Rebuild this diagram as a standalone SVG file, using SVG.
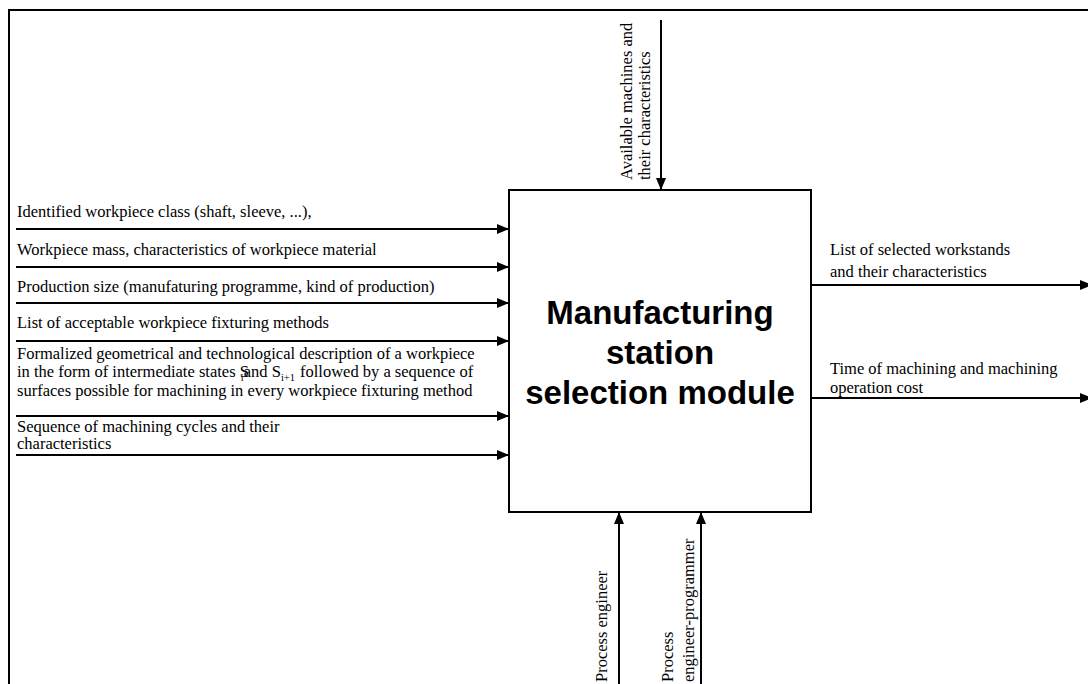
<svg xmlns="http://www.w3.org/2000/svg" width="1088" height="684" viewBox="0 0 1088 684">
<style>
.t{font-family:"Liberation Serif","Times New Roman",serif;font-size:16.5px;fill:#000}
.title{font-family:"Liberation Sans",Arial,sans-serif;font-weight:bold;font-size:33px;fill:#000;text-anchor:middle}
.ln{stroke:#000;stroke-width:2;fill:none}
.ar{stroke:#000;stroke-width:2;fill:none;marker-end:url(#ah)}
</style>
<defs>
<marker id="ah" markerUnits="userSpaceOnUse" markerWidth="12" markerHeight="10" refX="11" refY="5" orient="auto">
<path d="M0,0 L12,5 L0,10 z" fill="#000"/>
</marker>
</defs>
<rect width="1088" height="684" fill="#fff"/>
<g id="frame">
<path class="ln" d="M9,684 V10 H1088"/>
</g>
<g id="module">
<rect x="509" y="190" width="302" height="322" fill="#fff" stroke="#000" stroke-width="2"/>
<text class="title" x="660" y="324">Manufacturing</text>
<text class="title" x="660" y="364">station</text>
<text class="title" x="660" y="404">selection module</text>
</g>
<g id="connectors">
<line class="ar" x1="16" y1="229" x2="508" y2="229"/>
<line class="ar" x1="16" y1="267" x2="508" y2="267"/>
<line class="ar" x1="16" y1="303" x2="508" y2="303"/>
<line class="ar" x1="16" y1="341" x2="508" y2="341"/>
<line class="ar" x1="16" y1="416" x2="508" y2="416"/>
<line class="ar" x1="16" y1="455" x2="508" y2="455"/>
<line class="ar" x1="812" y1="285" x2="1091" y2="285"/>
<line class="ar" x1="812" y1="398" x2="1091" y2="398"/>
<line class="ar" x1="661" y1="20" x2="661" y2="189"/>
<line class="ar" x1="619" y1="684" x2="619" y2="513"/>
<line class="ar" x1="701" y1="684" x2="701" y2="513"/>
</g>
<g id="labels">
<text class="t" x="17" y="217">Identified workpiece class (shaft, sleeve, ...),</text>
<text class="t" x="17" y="255">Workpiece mass, characteristics of workpiece material</text>
<text class="t" x="17" y="292">Production size (manufaturing programme, kind of production)</text>
<text class="t" x="17" y="328">List of acceptable workpiece fixturing methods</text>
<text class="t" x="17" y="359">Formalized geometrical and technological description of a workpiece</text>
<text class="t" x="17" y="377">in the form of intermediate states S<tspan font-size="10.5" dx="-8" dy="4">i</tspan><tspan dy="-4">and S</tspan><tspan font-size="10.5" dy="4">i+1</tspan><tspan dx="5" dy="-4">followed by a sequence of</tspan></text>
<text class="t" x="17" y="396">surfaces possible for machining in every workpiece fixturing method</text>
<text class="t" x="17" y="432">Sequence of machining cycles and their</text>
<text class="t" x="17" y="449">characteristics</text>
<text class="t" x="830" y="255">List of selected workstands</text>
<text class="t" x="830" y="277">and their characteristics</text>
<text class="t" x="830" y="374">Time of machining and machining</text>
<text class="t" x="830" y="393">operation cost</text>
<text class="t" transform="translate(632,180) rotate(-90)">Available machines and</text>
<text class="t" transform="translate(650,180) rotate(-90)">their characteristics</text>
<text class="t" transform="translate(607,682) rotate(-90)">Process engineer</text>
<text class="t" transform="translate(673,682) rotate(-90)">Process</text>
<text class="t" transform="translate(694,682) rotate(-90)">engineer-programmer</text>
</g>
</svg>
